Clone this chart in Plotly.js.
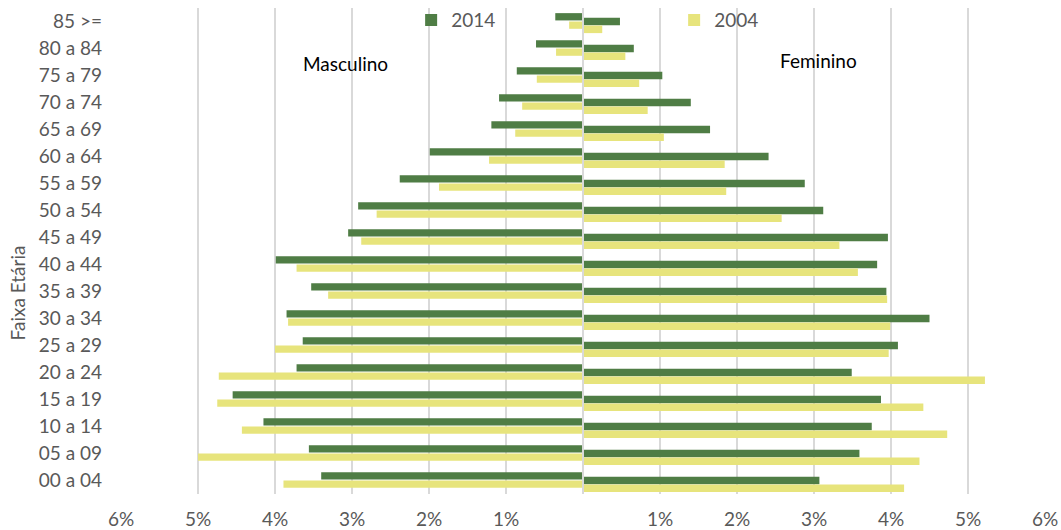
<!DOCTYPE html>
<html>
<head>
<meta charset="utf-8">
<script src="https://cdn.plot.ly/plotly-3.0.1.min.js"></script>
<style>
  html, body { margin: 0; padding: 0; background: #ffffff; }
  #chart { width: 1061px; height: 530px; }
</style>
</head>
<body>
<div id="chart"></div>
<script>
// Age groups, bottom to top
var ageGroups = ['00 a 04', '05 a 09', '10 a 14', '15 a 19', '20 a 24', '25 a 29',
  '30 a 34', '35 a 39', '40 a 44', '45 a 49', '50 a 54', '55 a 59',
  '60 a 64', '65 a 69', '70 a 74', '75 a 79', '80 a 84', '85 >='];

// Share of population (%) – Masculino
var male2014 = [3.40, 3.56, 4.15, 4.55, 3.72, 3.64, 3.85, 3.53, 3.99, 3.05, 2.92, 2.38, 1.99, 1.19, 1.09, 0.86, 0.61, 0.36];
var male2004 = [3.89, 5.00, 4.43, 4.75, 4.73, 4.00, 3.83, 3.31, 3.72, 2.88, 2.68, 1.87, 1.22, 0.88, 0.79, 0.60, 0.35, 0.18];
// Share of population (%) – Feminino
var female2014 = [3.07, 3.59, 3.75, 3.87, 3.49, 4.09, 4.50, 3.94, 3.82, 3.96, 3.12, 2.88, 2.41, 1.65, 1.40, 1.03, 0.66, 0.48];
var female2004 = [4.17, 4.37, 4.73, 4.42, 5.22, 3.97, 3.99, 3.95, 3.57, 3.33, 2.58, 1.86, 1.84, 1.05, 0.84, 0.73, 0.55, 0.25];

var seriesNames = ['2014', '2004'];
var xTickVals = [-6, -5, -4, -3, -2, -1, 0, 1, 2, 3, 4, 5, 6];
var xTickText = ['6%', '5%', '4%', '3%', '2%', '1%', '', '1%', '2%', '3%', '4%', '5%', '6%'];

var GREEN = '#4F7D45';
var YELLOW = '#E7E47C';
var FONT = 'Lato, "Open Sans", "Noto Sans", sans-serif';
var GREY = '#595959';

function neg(a) { return a.map(function (v) { return -v; }); }

var traces = [
  { type: 'bar', orientation: 'h', name: seriesNames[0], legendgroup: 'a',
    y: ageGroups, x: neg(male2014), marker: { color: GREEN }, offset: 0.04, width: 0.27, showlegend: true,
    hoverinfo: 'skip' },
  { type: 'bar', orientation: 'h', name: seriesNames[1], legendgroup: 'b',
    y: ageGroups, x: neg(male2004), marker: { color: YELLOW }, offset: -0.27, width: 0.27, showlegend: true,
    hoverinfo: 'skip' },
  { type: 'bar', orientation: 'h', name: seriesNames[0], legendgroup: 'a',
    y: ageGroups, x: female2014, marker: { color: GREEN }, offset: -0.135, width: 0.27, showlegend: false,
    hoverinfo: 'skip' },
  { type: 'bar', orientation: 'h', name: seriesNames[1], legendgroup: 'b',
    y: ageGroups, x: female2004, marker: { color: YELLOW }, offset: -0.43, width: 0.28, showlegend: false,
    hoverinfo: 'skip' }
];

var layout = {
  width: 1061, height: 530,
  margin: { l: 121, r: 16, t: 8, b: 36, pad: 0, autoexpand: false },
  paper_bgcolor: '#ffffff', plot_bgcolor: '#ffffff',
  barmode: 'overlay',
  font: { family: FONT, size: 19, color: GREY },
  xaxis: {
    range: [-6, 6], tickvals: xTickVals, ticktext: xTickText,
    showgrid: true, gridcolor: '#D9D9D9', gridwidth: 2,
    zeroline: false, showline: false, ticks: '',
    ticklabelstandoff: 12,
    tickfont: { family: FONT, size: 19, color: GREY },
    fixedrange: true
  },
  yaxis: {
    type: 'category', categoryorder: 'array', categoryarray: ageGroups,
    range: [-0.5, 17.5],
    showgrid: false, zeroline: false, showline: false, ticks: '',
    ticklabelstandoff: 18,
    tickfont: { family: FONT, size: 19, color: GREY },
    fixedrange: true
  },
  legend: {
    orientation: 'h', x: 0.314, xanchor: 'left', y: 0.975, yanchor: 'middle',
    bgcolor: 'rgba(0,0,0,0)', entrywidth: 218, entrywidthmode: 'pixels',
    font: { family: FONT, size: 19, color: GREY }, traceorder: 'normal'
  },
  shapes: [
    { type: 'line', xref: 'x', yref: 'paper', x0: 0, x1: 0, y0: 0, y1: 1,
      line: { color: '#D9D9D9', width: 2 }, layer: 'above' }
  ],
  annotations: [
    { text: 'Masculino', xref: 'paper', yref: 'paper', x: 0.2435, y: 0.886,
      xanchor: 'center', yanchor: 'middle',
      showarrow: false, font: { family: FONT, size: 19, color: '#000000' } },
    { text: 'Feminino', xref: 'paper', yref: 'paper', x: 0.755, y: 0.891,
      xanchor: 'center', yanchor: 'middle',
      showarrow: false, font: { family: FONT, size: 19, color: '#000000' } },
    { text: 'Faixa Etária', xref: 'paper', yref: 'paper', x: -0.111, y: 0.4136,
      xanchor: 'center', yanchor: 'middle',
      textangle: -90, showarrow: false, font: { family: FONT, size: 19, color: GREY } }
  ]
};

Plotly.newPlot('chart', traces, layout, { displayModeBar: false, staticPlot: true });
</script>
</body>
</html>
